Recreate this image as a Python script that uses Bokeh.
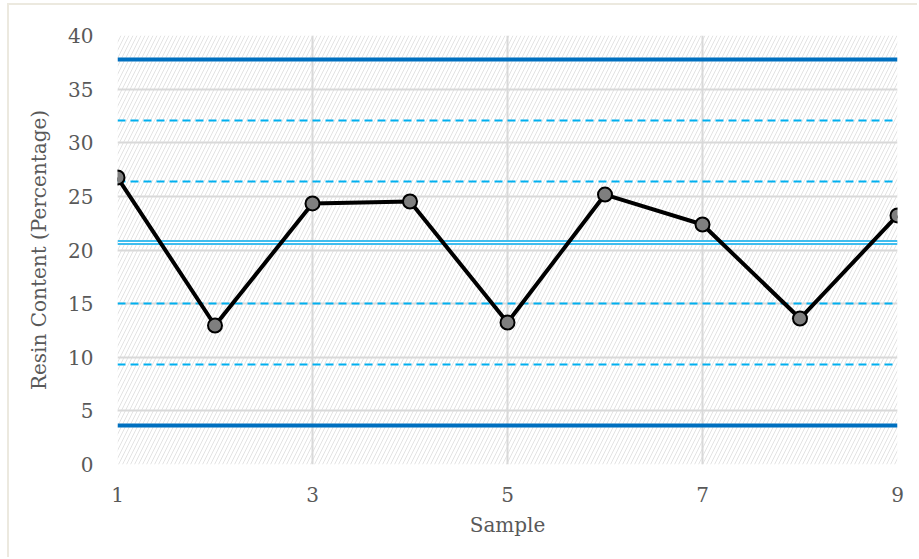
from bokeh.plotting import figure
from bokeh.models import Span, FixedTicker
from bokeh.embed import file_html
from bokeh.resources import INLINE

# Resin content per sample
samples = [1, 2, 3, 4, 5, 6, 7, 8, 9]
resin = [26.76, 12.96, 24.34, 24.52, 13.24, 25.17, 22.38, 13.61, 23.22]

# Control chart limits
center_line = 20.70
control_limits = [37.76, 3.64]            # UCL, LCL
zone_lines = [32.07, 26.39, 15.01, 9.32]  # +2s, +1s, -1s, -2s

x_ticks = [1, 3, 5, 7, 9]
y_ticks = [0, 5, 10, 15, 20, 25, 30, 35, 40]

FONT = "DejaVu Serif"
TEXT = "#595959"
GRID = "#D9D9D9"

p = figure(width=910, height=554, x_range=(1, 9), y_range=(0, 40),
           output_backend="svg", toolbar_location=None,
           min_border_left=108, min_border_right=22,
           min_border_top=30, min_border_bottom=95,
           background_fill_color="white", border_fill_color="white",
           outline_line_color=None,
           styles={"margin-left": "7px", "margin-top": "3px",
                   "border-left": "2px solid #ECE9DF",
                   "border-top": "2px solid #ECE9DF",
                   "border-right": "none", "border-bottom": "none"})

# hatched plot area
bg = p.quad(left=[1], right=[9], bottom=[0], top=[40], fill_color="white",
            line_color=None, hatch_pattern="/", hatch_color="#E3E3E3",
            hatch_weight=1, hatch_scale=8)
bg.level = "image"

p.xaxis.ticker = FixedTicker(ticks=x_ticks)
p.yaxis.ticker = FixedTicker(ticks=y_ticks)
for ax in (p.xaxis[0], p.yaxis[0]):
    ax.axis_line_color = None
    ax.major_tick_line_color = None
    ax.minor_tick_line_color = None
    ax.major_label_text_font = FONT
    ax.major_label_text_font_size = "20px"
    ax.major_label_text_color = TEXT
    ax.axis_label_text_font = FONT
    ax.axis_label_text_font_size = "20px"
    ax.axis_label_text_font_style = "normal"
    ax.axis_label_text_color = TEXT
p.xaxis.axis_label = "Sample"
p.yaxis.axis_label = "Resin Content (Percentage)"
p.xaxis.major_label_standoff = 16
p.yaxis.major_label_standoff = 18
p.xaxis.axis_label_standoff = 8
p.yaxis.axis_label_standoff = 14

p.xgrid.grid_line_color = GRID
p.ygrid.grid_line_color = GRID
p.xgrid.grid_line_width = 2
p.ygrid.grid_line_width = 2

for v in zone_lines:
    p.add_layout(Span(location=v, dimension="width", line_color="#00B0F0",
                      line_width=2, line_dash="8 5", level="underlay"))
for v in control_limits:
    p.add_layout(Span(location=v, dimension="width", line_color="#0070C0",
                      line_width=4, level="underlay"))
# double center line
p.add_layout(Span(location=center_line, dimension="width", line_color="#3FBDEE",
                  line_width=5, level="underlay"))
p.add_layout(Span(location=center_line, dimension="width", line_color="white",
                  line_width=1.2, level="underlay"))

p.line(samples, resin, line_color="black", line_width=4)
p.scatter(samples, resin, size=14, fill_color="#7F7F7F",
          line_color="black", line_width=2)

open("out.html", "w").write(file_html(p, INLINE))
